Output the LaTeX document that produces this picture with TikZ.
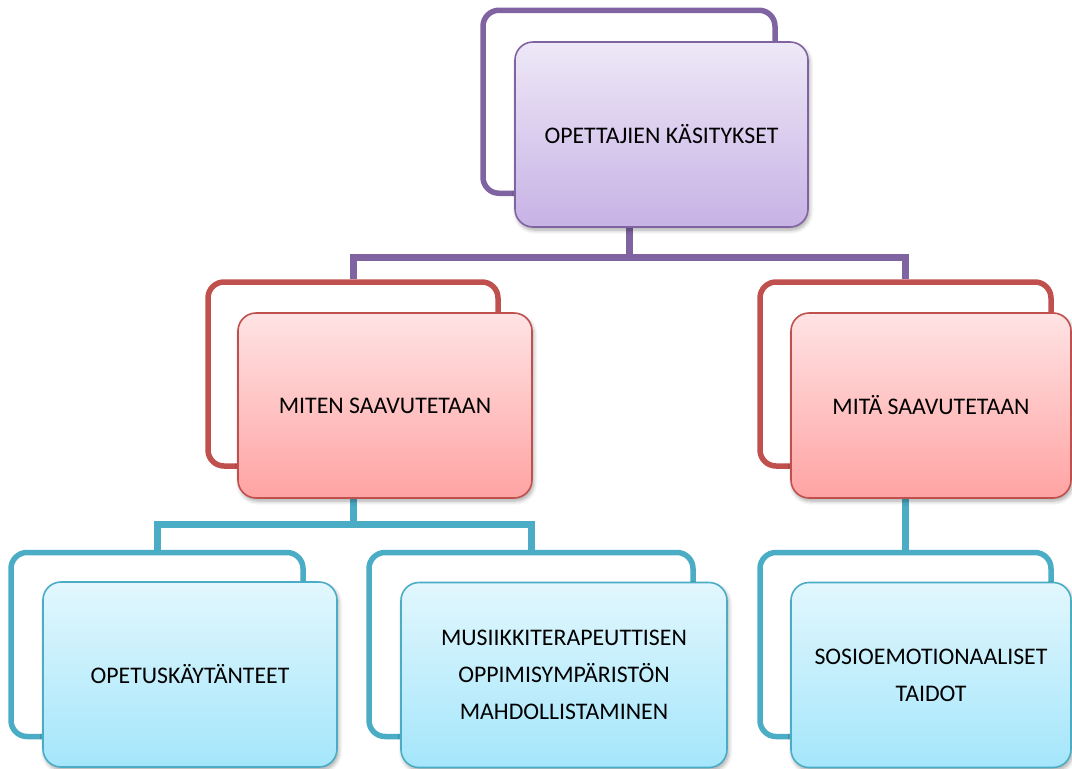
\documentclass[tikz,border=0pt]{standalone}
\usepackage{fontspec}
\setmainfont{Carlito}
\usetikzlibrary{shadows.blur}
\definecolor{pline}{HTML}{8064A2}
\definecolor{rline}{HTML}{C0504D}
\definecolor{bline}{HTML}{4BACC6}
\definecolor{ptop}{HTML}{EEE8F7}
\definecolor{pbot}{HTML}{C7B2E5}
\definecolor{rtop}{HTML}{FFE3E4}
\definecolor{rbot}{HTML}{FFA3A3}
\definecolor{btop}{HTML}{E2F7FD}
\definecolor{bbot}{HTML}{A4E6FB}
\tikzset{
  frm/.style={draw=#1, line width=5.5pt, rounded corners=16pt, inner sep=0pt, minimum height=184pt},
  bx/.style={draw=#1, line width=1.6pt, rounded corners=18pt, inner sep=0pt, minimum height=185pt,
     align=center, font=\fontsize{23.8pt}{37pt}\selectfont,
     blur shadow={shadow xshift=1.5pt, shadow yshift=-3pt, shadow blur steps=6, shadow blur radius=4pt, shadow opacity=35}},
  pbox/.style={bx=pline, top color=ptop, bottom color=pbot},
  rbox/.style={bx=rline, top color=rtop, bottom color=rbot},
  bbox/.style={bx=bline, top color=btop, bottom color=bbot},
  conn/.style={draw=#1, line width=7pt}
}
\begin{document}
\begin{tikzpicture}[x=1pt,y=-1pt]
\useasboundingbox (0,0) rectangle (1072,769);
% frames
\node[frm=pline, minimum width=292pt, minimum height=183pt] (fTop) at (629,101.75) {};
\node[frm=rline, minimum width=290pt] (fML) at (353,374) {};
\node[frm=rline, minimum width=291pt] (fMR) at (905.5,374) {};
\node[frm=bline, minimum width=292pt] (fBL) at (157,644.5) {};
\node[frm=bline, minimum width=324pt] (fBM) at (531,644.5) {};
\node[frm=bline, minimum width=291pt] (fBR) at (905.5,644.5) {};
\coordinate (barP) at (0,257);
\coordinate (barB) at (0,524);
% connectors
\draw[conn=pline] (fTop.center) |- (fML.north |- barP) -- (fML.north);
\draw[conn=pline] (fTop.center) |- (fMR.north |- barP) -- (fMR.north);
\draw[conn=bline] (fML.center) |- (fBL.north |- barB) -- (fBL.north);
\draw[conn=bline] (fML.center) |- (fBM.north |- barB) -- (fBM.north);
\draw[conn=bline] (fMR.center) -- (fBR.north);
% boxes
\node[pbox, minimum width=293pt] (bTop) at (661.5,134.5) {OPETTAJIEN KÄSITYKSET};
\node[rbox, minimum width=294pt] (bML) at (385,405.5) {MITEN SAAVUTETAAN};
\node[rbox, minimum width=280pt] (bMR) at (931,405.5) {MITÄ SAAVUTETAAN};
\node[bbox, minimum width=294pt] (bBL) at (190,674.5) {OPETUSKÄYTÄNTEET};
\node[bbox, minimum width=326pt] (bBM) at (564,675) {MUSIIKKITERAPEUTTISEN\\OPPIMISYMPÄRISTÖN\\MAHDOLLISTAMINEN};
\node[bbox, minimum width=280pt] (bBR) at (931,675) {SOSIOEMOTIONAALISET\\TAIDOT};
\end{tikzpicture}
\end{document}
